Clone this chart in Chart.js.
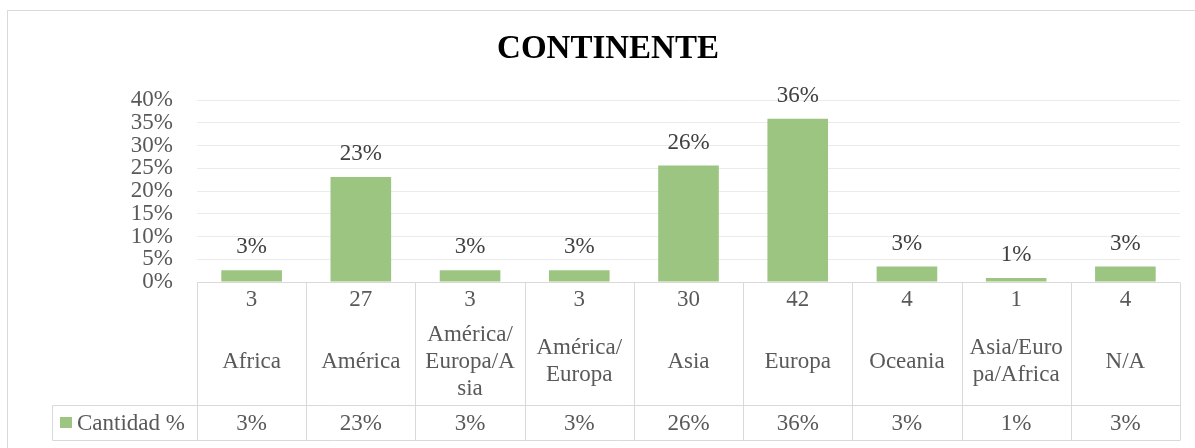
<!DOCTYPE html>
<html>
<head>
<meta charset="utf-8">
<title>Continente</title>
<script src="https://cdn.jsdelivr.net/npm/chart.js@4.4.1/dist/chart.umd.min.js"></script>
<style>
  body { margin: 0; background: #ffffff; }
</style>
</head>
<body>
<canvas id="continente" width="1195" height="448"></canvas>
<script>
// data (labels wrapped the way the data table shows them)
const chartTitle = 'CONTINENTE';
const seriesName = 'Cantidad %';
const categories = [
    ['Africa'],
    ['América'],
    ['América/', 'Europa/A', 'sia'],
    ['América/', 'Europa'],
    ['Asia'],
    ['Europa'],
    ['Oceania'],
    ['Asia/Euro', 'pa/Africa'],
    ['N/A']
];
const counts = [3, 27, 3, 3, 30, 42, 4, 1, 4];
const percentages = [2.6, 23.1, 2.6, 2.6, 25.6, 35.9, 3.4, 0.9, 3.4];
const yMax = 40;
const yStep = 5;

const serif = "'Liberation Serif', 'Times New Roman', serif";
const barColor = '#9bc580';
const textColor = '#595959';
const labelColor = '#404040';
const tableLine = '#d9d9d9';

// frame, title, bar labels and the data table under the plot
const excelTable = {
    id: 'excelTable',
    beforeDraw(chart) {
        const ctx = chart.ctx;
        ctx.save();
        ctx.strokeStyle = tableLine;
        ctx.lineWidth = 1;
        ctx.strokeRect(7.5, 10.5, chart.width + 20, chart.height + 20);
        ctx.fillStyle = '#000000';
        ctx.font = 'bold 33px ' + serif;
        ctx.textAlign = 'center';
        ctx.textBaseline = 'middle';
        ctx.fillText(chartTitle, 608, 49);
        ctx.restore();
    },
    afterDatasetsDraw(chart) {
        const ctx = chart.ctx;
        const meta = chart.getDatasetMeta(0);
        ctx.save();
        ctx.fillStyle = labelColor;
        ctx.font = '23px ' + serif;
        ctx.textAlign = 'center';
        ctx.textBaseline = 'middle';
        meta.data.forEach((bar, i) => {
            ctx.fillText(Math.round(percentages[i]) + '%', bar.x, bar.y - 23);
        });
        ctx.restore();
    },
    afterDraw(chart) {
        const ctx = chart.ctx;
        const area = chart.chartArea;
        const xScale = chart.scales.x;
        const n = categories.length;
        const colW = (area.right - area.left) / n;
        const yTop = Math.round(area.bottom) + 0.5;
        const yMid = yTop + 123;
        const yBot = yMid + 35;
        const legendLeft = 52.5;

        ctx.save();
        ctx.strokeStyle = tableLine;
        ctx.lineWidth = 1;
        ctx.beginPath();
        ctx.moveTo(area.left, yTop);
        ctx.lineTo(area.right, yTop);
        ctx.moveTo(legendLeft, yMid);
        ctx.lineTo(area.right, yMid);
        ctx.moveTo(legendLeft, yBot);
        ctx.lineTo(area.right, yBot);
        ctx.moveTo(legendLeft, yMid);
        ctx.lineTo(legendLeft, yBot);
        for (let i = 0; i <= n; i++) {
            const x = Math.round(xScale.getPixelForValue(0) - colW / 2 + i * colW) + 0.5;
            ctx.moveTo(x, yTop);
            ctx.lineTo(x, yBot);
        }
        ctx.stroke();

        ctx.fillStyle = textColor;
        ctx.font = '23px ' + serif;
        ctx.textAlign = 'center';
        ctx.textBaseline = 'middle';
        for (let i = 0; i < n; i++) {
            const cx = xScale.getPixelForValue(i);
            ctx.fillText(String(counts[i]), cx, yTop + 17);
            const lines = categories[i];
            const lh = 27;
            const start = yTop + 79 - (lines.length - 1) * lh / 2;
            lines.forEach((line, j) => {
                ctx.fillText(line, cx, start + j * lh);
            });
            ctx.fillText(Math.round(percentages[i]) + '%', cx, yMid + 18);
        }

        // legend key in the table
        ctx.fillStyle = barColor;
        ctx.fillRect(60, yMid + 11.5, 12, 11);
        ctx.fillStyle = textColor;
        ctx.textAlign = 'left';
        ctx.fillText(seriesName, 77, yMid + 18);
        ctx.restore();
    }
};

const chartContainer = document.getElementById('continente').getContext('2d');

new Chart(chartContainer, {
    type: 'bar',
    data: {
        labels: categories.map(c => c.join('')),
        datasets: [{
            label: seriesName,
            data: percentages,
            backgroundColor: barColor,
            borderWidth: 0,
            categoryPercentage: 1,
            barPercentage: 0.555
        }]
    },
    options: {
        responsive: false,
        animation: false,
        layout: {
            padding: { top: 100, right: 15, bottom: 166, left: 0 }
        },
        plugins: {
            legend: { display: false },
            title: { display: false },
            tooltip: { enabled: false }
        },
        scales: {
            x: {
                display: false
            },
            y: {
                min: 0,
                max: yMax,
                afterFit(scale) {
                    scale.width = 197;
                },
                border: { display: false },
                grid: {
                    color: '#ebebeb',
                    lineWidth: 1,
                    drawTicks: false
                },
                ticks: {
                    stepSize: yStep,
                    autoSkip: false,
                    padding: 24,
                    color: textColor,
                    font: { family: serif, size: 23, lineHeight: 1 },
                    callback: (v) => v + '%'
                }
            }
        }
    },
    plugins: [excelTable]
});
</script>
</body>
</html>
